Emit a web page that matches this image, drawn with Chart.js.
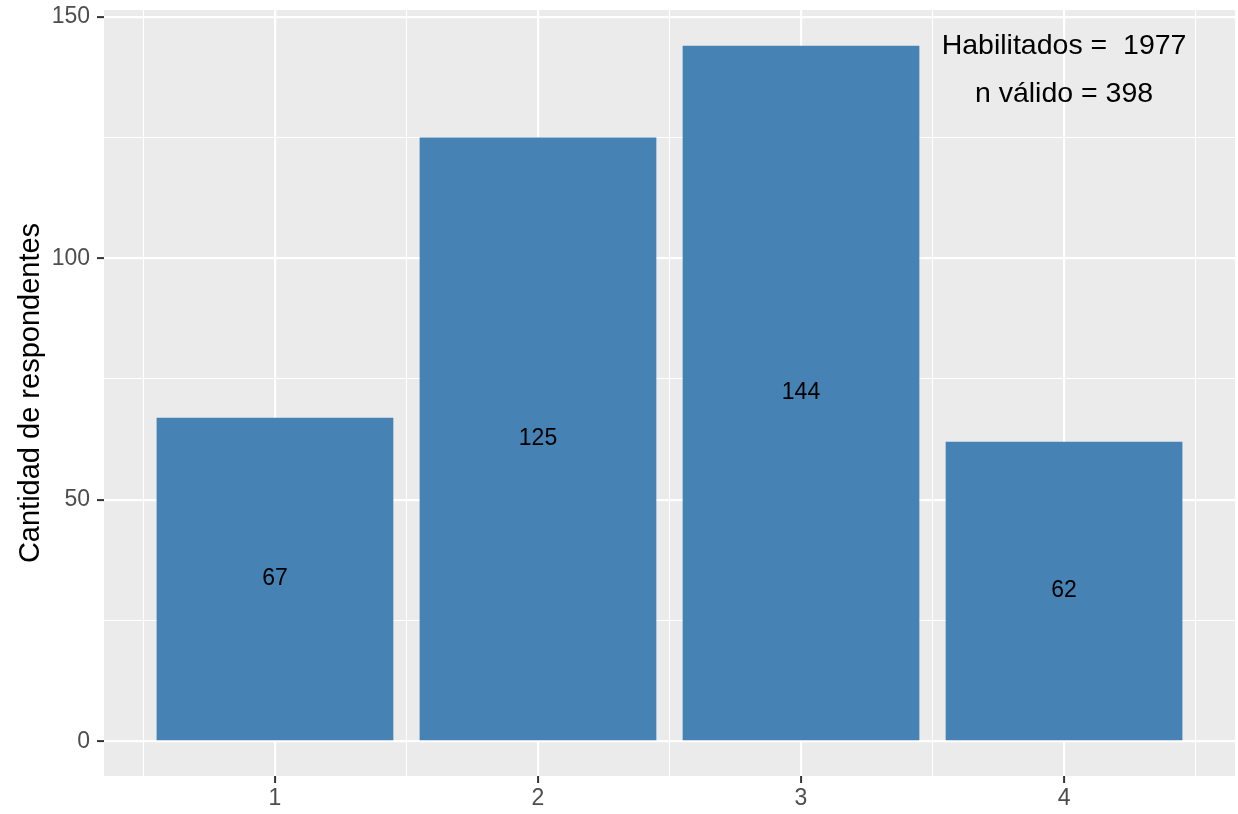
<!DOCTYPE html>
<html>
<head>
<meta charset="utf-8">
<script src="https://cdn.jsdelivr.net/npm/chart.js@4"></script>
<style>
    body { margin: 0; background: #ffffff; }
    #wrap { width: 1238px; height: 814px; }
</style>
</head>
<body>
<div id="wrap"><canvas id="chart-bar"></canvas></div>
<script>
// Datos
const categorias = [1, 2, 3, 4];
const respondentes = [67, 125, 144, 62];
const yTicks = [0, 25, 50, 75, 100, 125, 150];
const yMajor = [0, 50, 100, 150];
const xMinor = [0.5, 1.5, 2.5, 3.5, 4.5];
const notas = ['Habilitados =  1977', 'n válido = 398'];
const notaX = 4;
const notaY = [144, 134];

const FONT = '"Liberation Sans", Arial, sans-serif';

// Fondo gris del panel + líneas menores en x
const panelPlugin = {
    id: 'panel',
    beforeDraw(chart) {
        const { ctx, chartArea: a } = chart;
        ctx.save();
        ctx.fillStyle = '#EBEBEB';
        ctx.fillRect(a.left, a.top, a.right - a.left, a.bottom - a.top);
        ctx.restore();
    },
    beforeDatasetsDraw(chart) {
        const { ctx, chartArea: a, scales } = chart;
        ctx.save();
        ctx.strokeStyle = '#ffffff';
        ctx.lineWidth = 1.1;
        xMinor.forEach(v => {
            const px = scales.x.getPixelForValue(v);
            ctx.beginPath();
            ctx.moveTo(px, a.top);
            ctx.lineTo(px, a.bottom);
            ctx.stroke();
        });
        ctx.restore();
    }
};

// Etiquetas dentro de las barras y anotación
const textoPlugin = {
    id: 'texto',
    afterDatasetsDraw(chart) {
        const { ctx, scales } = chart;
        ctx.save();
        ctx.fillStyle = '#000000';
        ctx.textAlign = 'center';
        ctx.textBaseline = 'middle';
        ctx.font = '23px ' + FONT;
        chart.getDatasetMeta(0).data.forEach((bar, i) => {
            ctx.fillText(String(respondentes[i]), bar.x, (bar.y + bar.base) / 2);
        });
        ctx.font = '28.5px ' + FONT;
        notas.forEach((t, i) => {
            ctx.fillText(t, scales.x.getPixelForValue(notaX), scales.y.getPixelForValue(notaY[i]));
        });
        ctx.restore();
    }
};

new Chart(document.getElementById('chart-bar'), {
    type: 'bar',
    data: {
        datasets: [{
            data: categorias.map((c, i) => ({ x: c, y: respondentes[i] })),
            backgroundColor: '#4682B4',
            borderWidth: 0,
            categoryPercentage: 1,
            barPercentage: 0.9
        }]
    },
    options: {
        responsive: true,
        maintainAspectRatio: false,
        animation: false,
        layout: { padding: { top: 10, right: 3, left: 0, bottom: 0 } },
        plugins: {
            legend: { display: false },
            tooltip: { enabled: false }
        },
        scales: {
            x: {
                type: 'linear',
                min: 0.35,
                max: 4.65,
                offset: false,
                afterBuildTicks: s => { s.ticks = categorias.map(v => ({ value: v })); },
                afterFit: s => { s.height = 38; s.paddingLeft = 0; s.paddingRight = 0; },
                border: { display: false },
                grid: {
                    offset: false,
                    color: '#ffffff',
                    lineWidth: 2.2,
                    tickColor: '#333333',
                    tickWidth: 2,
                    tickLength: 7
                },
                ticks: {
                    color: '#4D4D4D',
                    padding: 2,
                    font: { family: FONT, size: 23 },
                    callback: v => String(v)
                }
            },
            y: {
                min: -7.2,
                max: 151.4,
                afterBuildTicks: s => { s.ticks = yTicks.map(v => ({ value: v })); },
                afterFit: s => { s.width = 104; s.paddingTop = 0; s.paddingBottom = 0; },
                border: { display: false },
                grid: {
                    color: '#ffffff',
                    lineWidth: c => yMajor.includes(c.tick.value) ? 2.2 : 1.1,
                    tickColor: c => yMajor.includes(c.tick.value) ? '#333333' : 'rgba(0,0,0,0)',
                    tickWidth: 2,
                    tickLength: 7
                },
                ticks: {
                    color: '#4D4D4D',
                    padding: 7,
                    font: { family: FONT, size: 23 },
                    callback: v => yMajor.includes(v) ? String(v) : ''
                },
                title: {
                    display: true,
                    text: 'Cantidad de respondentes',
                    color: '#000000',
                    font: { family: FONT, size: 29 },
                    padding: { top: 14, bottom: 0 }
                }
            }
        }
    },
    plugins: [panelPlugin, textoPlugin]
});
</script>
</body>
</html>
